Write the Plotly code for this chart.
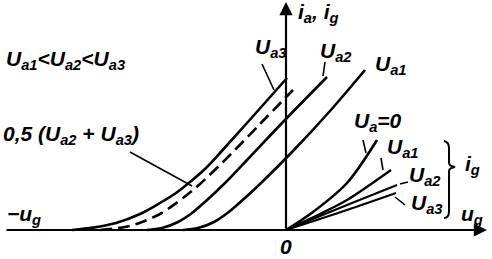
import plotly.graph_objects as go

# ---- data (arbitrary units, grid voltage u_g vs current) ----
ua3_ug = [-10.7, -9.65, -8.5, -7.3, -6.3, -5.5, -4.8, -4.0, -3.3, -1.95, 0.05]
ua3_ia = [0.0, 0.12, 0.35, 0.8, 1.35, 1.85, 2.4, 3.1, 3.85, 5.35, 7.6]

mid_ug = [-9.3, -8.05, -7.2, -6.3, -5.55, -4.9, -4.3, -2.8, -1.3, 0.35]
mid_ia = [0.0, 0.15, 0.4, 0.8, 1.3, 1.8, 2.3, 3.75, 5.3, 7.0]

ua2_ug = [-6.95, -6.2, -5.4, -4.7, -4.0, -3.05, -1.95, -0.15, 2.05]
ua2_ia = [0.0, 0.1, 0.4, 0.85, 1.45, 2.35, 3.5, 5.4, 7.65]

ua1_ug = [-5.15, -4.4, -3.6, -2.8, -2.0, -1.3, 0.35, 2.2, 3.95]
ua1_ia = [0.0, 0.1, 0.4, 0.95, 1.65, 2.3, 3.95, 5.95, 8.0]

g0_ug = [0.0, 1.35, 3.05, 4.55]
g0_ig = [0.0, 0.9, 2.35, 4.5]
g1_ug = [0.0, 1.7, 3.05, 5.25]
g1_ig = [0.0, 0.8, 1.5, 3.0]
g2_ug = [0.0, 3.05, 5.55]
g2_ig = [0.0, 1.25, 2.25]
g3_ug = [0.0, 3.05, 5.5]
g3_ig = [0.0, 1.0, 1.85]

FONT = dict(family="Liberation Sans", size=21, color="black", style="italic", weight="bold")

fig = go.Figure()

def curve(x, y, dash="solid", w=2.6):
    fig.add_trace(go.Scatter(x=x, y=y, mode="lines",
                             line=dict(color="black", width=w, dash=dash, shape="spline", smoothing=0.9),
                             hoverinfo="skip", showlegend=False))

curve(ua3_ug, ua3_ia)
curve(mid_ug, mid_ia, dash="12px,6px")
curve(ua2_ug, ua2_ia)
curve(ua1_ug, ua1_ia)
curve(g0_ug, g0_ig)
curve(g1_ug, g1_ig, w=2.3)
curve(g2_ug, g2_ig, w=2.1)
curve(g3_ug, g3_ig, w=2.1)

# axes with arrows
fig.add_annotation(x=0, y=11.4, ax=0, ay=0, xref="x", yref="y", axref="x", ayref="y",
                   showarrow=True, arrowhead=2, arrowsize=1.2, arrowwidth=2.2, arrowcolor="black", text="")
fig.add_annotation(x=10.05, y=0, ax=-14.05, ay=0, xref="x", yref="y", axref="x", ayref="y",
                   showarrow=True, arrowhead=2, arrowsize=1.2, arrowwidth=2.2, arrowcolor="black", text="")

# leader lines
leaders = [((-1.2, 8.3), (-0.6, 7.0)),
           ((1.95, 8.4), (1.85, 7.7)),
           ((-7.8, 3.9), (-4.7, 2.2)),
           ((3.85, 4.5), (4.0, 3.85)),
           ((4.75, 3.6), (4.85, 3.0)),
           ((5.7, 2.3), (6.1, 2.4)),
           ((5.45, 1.65), (5.95, 1.25))]
for (x0, y0), (x1, y1) in leaders:
    fig.add_shape(type="line", x0=x0, y0=y0, x1=x1, y1=y1, xref="x", yref="y",
                  line=dict(color="black", width=1.6))

# brace
fig.add_shape(type="path", xref="x", yref="y",
              path="M 7.9,4.45 Q 8.15,4.4 8.15,4.1 L 8.15,3.35 Q 8.15,3.2 8.45,3.15 "
                   "Q 8.15,3.1 8.15,2.95 L 8.15,0.95 Q 8.15,0.6 7.9,0.6",
              line=dict(color="black", width=2))

def label(x, y, t, anchor="center"):
    fig.add_annotation(x=x, y=y, xref="x", yref="y", text=t, showarrow=False,
                       font=FONT, xanchor=anchor, yanchor="middle")

label(0.5, 10.85, "i<sub>a</sub>, i<sub>g</sub>", "left")
label(-14.1, 8.5, "U<sub>a1</sub>&lt;U<sub>a2</sub>&lt;U<sub>a3</sub>", "left")
label(-14.25, 4.75, "0,5 (U<sub>a2</sub> + U<sub>a3</sub>)", "left")
label(-14.05, 0.75, "−u<sub>g</sub>", "left")
label(-0.75, 9.1, "U<sub>a3</sub>")
label(2.5, 8.9, "U<sub>a2</sub>")
label(5.25, 8.25, "U<sub>a1</sub>")
label(4.6, 5.4, "U<sub>a</sub>=0")
label(5.85, 4.1, "U<sub>a1</sub>")
label(6.95, 2.7, "U<sub>a2</sub>")
label(7.05, 1.3, "U<sub>a3</sub>")
label(9.3, 3.25, "i<sub>g</sub>")
label(9.3, 0.75, "u<sub>g</sub>")
label(0.0, -0.8, "0")

fig.update_layout(width=492, height=259, margin=dict(l=0, r=0, t=0, b=0),
                  paper_bgcolor="white", plot_bgcolor="white", showlegend=False,
                  xaxis=dict(range=[-14.3, 10.3], visible=False, fixedrange=True),
                  yaxis=dict(range=[-1.45, 11.5], visible=False, fixedrange=True))

fig.write_html("out.html")
